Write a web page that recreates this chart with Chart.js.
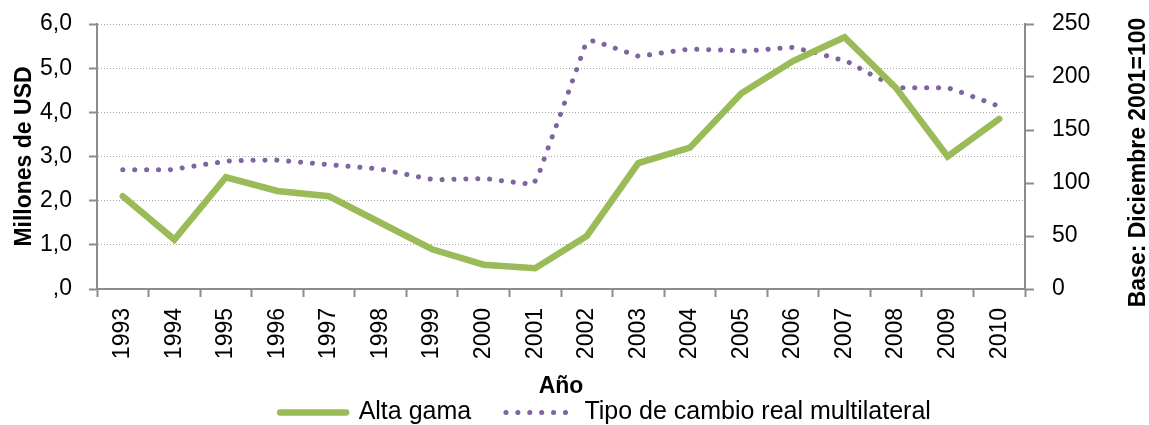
<!DOCTYPE html>
<html>
<head>
<meta charset="utf-8">
<script src="https://cdn.jsdelivr.net/npm/chart.js@4/dist/chart.umd.min.js"></script>
<style>
  html, body { margin: 0; padding: 0; background: #fff; }
  #wrap { width: 1149px; height: 425px; }
</style>
</head>
<body>
<div id="wrap"><canvas id="grafico"></canvas></div>
<script>
const years = ['1993', '1994', '1995', '1996', '1997', '1998', '1999', '2000', '2001',
  '2002', '2003', '2004', '2005', '2006', '2007', '2008', '2009', '2010'];

// Alta gama, millones de USD
const altaGama = [2.1, 1.12, 2.53, 2.22, 2.1, 1.5, 0.9, 0.55, 0.47,
  1.2, 2.85, 3.2, 4.43, 5.16, 5.7, 4.55, 3.0, 3.85];

// Tipo de cambio real multilateral (base dic 2001 = 100)
const tcrmFecha = [1993.00, 1993.92, 1994.15, 1994.60, 1995.06, 1995.50, 1995.96, 1996.42,
  1996.88, 1997.33, 1997.78, 1998.02, 1998.46, 1998.91, 1999.14, 1999.59, 2000.05, 2000.50,
  2000.96, 2001.06, 2001.21, 2001.37, 2001.53, 2001.68, 2001.84, 2001.99, 2002.15, 2002.37,
  2002.58, 2002.80, 2003.01, 2003.23, 2003.45, 2003.90, 2004.14, 2004.59, 2005.05, 2005.50,
  2005.96, 2006.18, 2006.41, 2006.85, 2007.07, 2007.27, 2007.47, 2007.68, 2007.88, 2008.09,
  2009.00, 2009.23, 2009.44, 2009.65, 2009.86, 2010.00];
const tcrmValor = [112.5, 112.5, 114.2, 117.6, 120.8, 121.4, 121.7, 119.8,
  117.9, 116.0, 114.2, 112.9, 108.5, 104.1, 103.1, 103.8, 104.1, 101.2,
  98.8, 106.9, 127.6, 149.0, 170.0, 190.8, 212.0, 232.7, 234.2, 230.2,
  226.7, 222.9, 219.5, 221.0, 222.6, 225.8, 226.1, 225.5, 224.5, 226.1,
  228.0, 225.8, 223.3, 217.3, 214.2, 208.8, 203.5, 198.4, 193.4, 189.9,
  189.9, 186.1, 182.4, 178.6, 174.8, 172.5];

const leftTicks = [',0', '1,0', '2,0', '3,0', '4,0', '5,0', '6,0'];
const rightTicks = [0, 50, 100, 150, 200, 250];

const FONT = "'Liberation Sans', Arial, sans-serif";
const verde = '#9BBB59';
const morado = '#8064A2';
const gris = '#8c8c8c';

// titulo del eje derecho, leido de abajo hacia arriba
const tituloDerecho = {
  id: 'tituloDerecho',
  afterDraw(chart) {
    const ctx = chart.ctx;
    const a = chart.chartArea;
    ctx.save();
    ctx.translate(1139, (a.top + a.bottom) / 2 + 6);
    ctx.rotate(-Math.PI / 2);
    ctx.font = 'bold 23px ' + FONT;
    ctx.fillStyle = '#000';
    ctx.textAlign = 'center';
    ctx.textBaseline = 'middle';
    ctx.fillText('Base: Diciembre 2001=100', 0, 0);
    ctx.restore();
  }
};

// corre la leyenda a la derecha y hacia abajo como en el original
const moverLeyenda = {
  id: 'moverLeyenda',
  afterLayout(chart) {
    const lg = chart.legend;
    if (lg) {
      lg.left += 31;
      lg.right += 31;
      lg.top += 10;
      lg.bottom += 10;
    }
  }
};

const sinRelleno = (scale) => { scale.paddingTop = 0; scale.paddingBottom = 0; };

new Chart(document.getElementById('grafico'), {
  type: 'line',
  data: {
    labels: years,
    datasets: [{
      label: 'Alta gama     ',
      data: altaGama,
      xAxisID: 'x',
      yAxisID: 'y',
      borderColor: verde,
      backgroundColor: verde,
      borderWidth: 6.5,
      borderCapStyle: 'round',
      borderJoinStyle: 'miter',
      pointRadius: 0,
      tension: 0
    }, {
      label: 'Tipo de cambio real multilateral',
      data: tcrmFecha.map((f, i) => ({ x: f, y: tcrmValor[i] })),
      xAxisID: 'x2',
      yAxisID: 'y2',
      borderColor: morado,
      backgroundColor: morado,
      borderWidth: 5,
      borderDash: [0.1, 11.8],
      borderCapStyle: 'round',
      pointRadius: 0,
      tension: 0
    }]
  },
  options: {
    responsive: true,
    maintainAspectRatio: false,
    animation: false,
    devicePixelRatio: 1,
    layout: { padding: { top: 24, left: 0, right: 0, bottom: 0 } },
    plugins: {
      tooltip: { enabled: false },
      legend: {
        position: 'bottom',
        labels: {
          usePointStyle: true,
          pointStyle: 'line',
          pointStyleWidth: 66,
          boxHeight: 10,
          padding: 0,
          color: '#000',
          font: { family: FONT, size: 25, lineHeight: 1 },
          generateLabels(chart) {
            const items = Chart.defaults.plugins.legend.labels.generateLabels(chart);
            items.forEach((it) => {
              const ds = chart.data.datasets[it.datasetIndex];
              it.lineWidth = ds.borderWidth;
              it.lineDash = ds.borderDash || [];
              it.lineCap = 'round';
              it.strokeStyle = ds.borderColor;
            });
            return items;
          }
        }
      }
    },
    scales: {
      x: {
        type: 'category',
        offset: true,
        grid: { offset: true, drawOnChartArea: false, tickLength: 8, tickColor: gris, tickWidth: 2 },
        border: { color: gris, width: 2 },
        ticks: {
          minRotation: 90, maxRotation: 90, padding: 11, color: '#000',
          font: { family: FONT, size: 23 }
        },
        title: {
          display: true, text: 'Año', color: '#000',
          font: { family: FONT, size: 23, weight: 'bold' }, padding: { top: 14, bottom: -10 }
        },
        afterFit(scale) {
          scale.height = scale.chart.height - 289 - scale.chart.legend.height;
          scale.paddingLeft = 0;
          scale.paddingRight = 0;
        }
      },
      x2: {
        type: 'linear',
        display: false,
        min: 1992.5,
        max: 2010.5
      },
      y: {
        position: 'left',
        min: 0, max: 6,
        grid: { color: '#a6a6a6', lineWidth: 1, tickLength: 8, tickColor: gris, tickWidth: 2 },
        border: { color: gris, width: 2, dash: [1, 2] },
        ticks: {
          stepSize: 1, padding: 17, color: '#000',
          font: { family: FONT, size: 23 },
          callback: (v) => leftTicks[Math.round(v)]
        },
        title: {
          display: true, text: 'Millones de USD', color: '#000',
          font: { family: FONT, size: 23, weight: 'bold' }, padding: { top: 11, bottom: 0 }
        },
        afterFit(scale) { scale.width = 97; sinRelleno(scale); }
      },
      y2: {
        position: 'right',
        min: 0, max: 250,
        afterBuildTicks(scale) { scale.ticks = rightTicks.map(v => ({ value: v })); },
        grid: { drawOnChartArea: false, tickLength: 9, tickColor: gris, tickWidth: 2 },
        border: { color: gris, width: 2 },
        ticks: { padding: 18, color: '#000', font: { family: FONT, size: 23 } },
        afterFit(scale) { scale.width = 124; sinRelleno(scale); }
      }
    }
  },
  plugins: [tituloDerecho, moverLeyenda]
});
</script>
</body>
</html>
